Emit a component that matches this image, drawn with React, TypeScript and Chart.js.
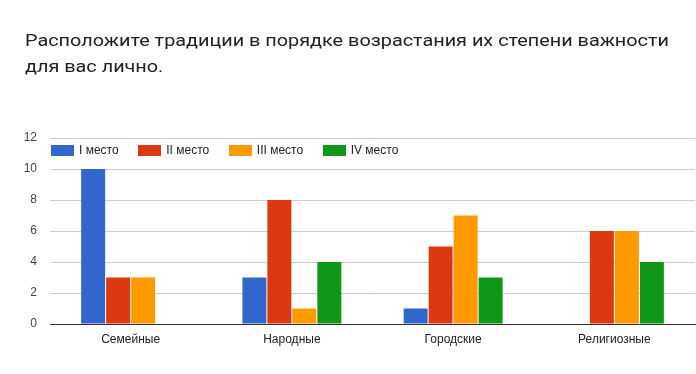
import React, { useEffect, useRef } from "react";
import { Chart, registerables } from "chart.js";

Chart.register(...registerables);

const TITLE_LINES = [
  "Расположите традиции в порядке возрастания их степени важности",
  "для вас лично.",
];
const categories = ["Семейные", "Народные", "Городские", "Религиозные"];
const seriesNames = ["I место", "II место", "III место", "IV место"];
const place1 = [10, 3, 1, 0];
const place2 = [3, 8, 5, 6];
const place3 = [3, 1, 7, 6];
const place4 = [0, 4, 3, 4];
const colors = ["#3366cc", "#dc3912", "#ff9900", "#109618"];
const yTicks = [0, 2, 4, 6, 8, 10, 12];

const AXIS_FONT = "Arial, 'Liberation Sans', sans-serif";
const TITLE_WIDTH = 644;

export default function App() {
  const ref = useRef<HTMLCanvasElement | null>(null);
  const titleRef = useRef<HTMLDivElement | null>(null);
  const firstLineRef = useRef<HTMLSpanElement | null>(null);

  useEffect(() => {
    document.body.style.margin = "0";
    if (titleRef.current && firstLineRef.current) {
      const w = firstLineRef.current.getBoundingClientRect().width;
      if (w > 0) titleRef.current.style.transform = `scaleX(${TITLE_WIDTH / w})`;
    }
    const canvas = ref.current;
    if (!canvas) return;
    const values = [place1, place2, place3, place4];
    const chart = new Chart(canvas, {
      type: "bar",
      data: {
        labels: categories,
        datasets: seriesNames.map((name, i) => ({
          label: name,
          data: values[i],
          backgroundColor: colors[i],
          borderWidth: 0,
          categoryPercentage: 0.62,
          barPercentage: 0.96,
        })),
      },
      options: {
        animation: false,
        responsive: false,
        maintainAspectRatio: false,
        layout: { padding: { top: 138, right: 1, left: 0, bottom: 0 } },
        plugins: {
          legend: { display: false },
          title: { display: false },
          tooltip: { enabled: false },
        },
        scales: {
          x: {
            grid: { display: false, drawTicks: false },
            border: { display: true, color: "#333333", width: 1 },
            ticks: {
              color: "#222222",
              font: { family: AXIS_FONT, size: 12 },
              padding: 8,
            },
            afterFit: (s: any) => {
              s.height = 50;
            },
          },
          y: {
            min: 0,
            max: 12,
            afterBuildTicks: (s: any) => {
              s.ticks = yTicks.map((v) => ({ value: v }));
            },
            grid: {
              drawTicks: false,
              color: (c: any) => (c.tick && c.tick.value === 0 ? "#333333" : "#cccccc"),
              lineWidth: 1,
            },
            border: { display: false },
            ticks: {
              color: "#444444",
              font: { family: AXIS_FONT, size: 12 },
              padding: 13,
            },
            afterFit: (s: any) => {
              s.width = 50;
            },
          },
        },
      },
    });
    return () => chart.destroy();
  }, []);

  return (
    <div style={{ position: "relative", width: 696, height: 374, background: "#fff", overflow: "hidden" }}>
      <canvas ref={ref} width={696} height={374} style={{ position: "absolute", left: 0, top: 0, width: 696, height: 374 }} />
      <div
        ref={titleRef}
        style={{
          position: "absolute",
          left: 25,
          top: 27,
          fontFamily: "Roboto, sans-serif",
          fontSize: 17,
          lineHeight: "26px",
          color: "#212121",
          whiteSpace: "nowrap",
          transformOrigin: "0 0",
        }}
      >
        {TITLE_LINES.map((l, i) => (
          <div key={i}>
            <span ref={i === 0 ? firstLineRef : undefined}>{l}</span>
          </div>
        ))}
      </div>
      <div
        style={{
          position: "absolute",
          left: 51,
          top: 143,
          display: "flex",
          alignItems: "center",
          fontFamily: AXIS_FONT,
          fontSize: 12,
          color: "#222222",
          whiteSpace: "nowrap",
        }}
      >
        {seriesNames.map((n, i) => (
          <div key={i} style={{ display: "flex", alignItems: "center", marginRight: 19.6 }}>
            <div style={{ width: 23, height: 11, background: colors[i], marginRight: 5 }} />
            <span>{n}</span>
          </div>
        ))}
      </div>
    </div>
  );
}
